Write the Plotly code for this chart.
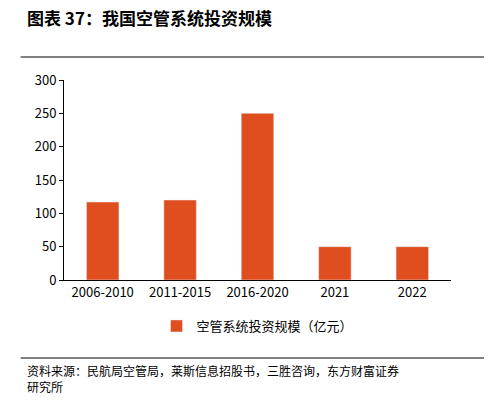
import plotly.graph_objects as go

categories = ["2006-2010", "2011-2015", "2016-2020", "2021", "2022"]
values = [117, 120, 250, 50, 50]
yticks = [0, 50, 100, 150, 200, 250, 300]
series_name = "空管系统投资规模（亿元）"

W, H = 492, 401
T, B = 72, 129
PH = H - T - B
def py(y):  # pixel y (from top) -> paper
    return (H - B - y) / PH

fig = go.Figure(go.Bar(x=categories, y=values, name=series_name,
                       marker_color="#E04E1F", width=0.42, showlegend=True))
fnt = "Noto Sans CJK SC"
fig.update_layout(
    width=W, height=H, paper_bgcolor="white", plot_bgcolor="white",
    margin=dict(l=56, r=49, t=T, b=B),
    font=dict(family=fnt, size=13, color="black"),
    bargap=0.5,
    yaxis=dict(range=[0, 300], tickvals=yticks, showgrid=False, showline=True,
               linecolor="black", ticks="outside", ticklen=4, tickcolor="black",
               zeroline=False),
    xaxis=dict(showline=True, linecolor="black", ticks="", tickfont=dict(size=13)),
    legend=dict(orientation="h", x=0.5, xanchor="center", y=py(318), yanchor="middle",
                font=dict(size=13), itemwidth=30),
    shapes=[
        dict(type="line", xref="paper", yref="paper", x0=-0.112, x1=1.114,
             y0=py(49), y1=py(49), line=dict(color="black", width=1)),
        dict(type="line", xref="paper", yref="paper", x0=-0.112, x1=1.114,
             y0=py(350), y1=py(350), line=dict(color="black", width=1)),
    ],
    annotations=[
        dict(text="<b>图表 37：我国空管系统投资规模</b>", xref="paper", yref="paper",
             x=-0.10, y=py(10), xanchor="left", yanchor="middle",
             showarrow=False, font=dict(size=17, family=fnt)),
        dict(text="资料来源：民航局空管局，莱斯信息招股书，三胜咨询，东方财富证券<br>研究所",
             xref="paper", yref="paper", x=-0.10, y=py(352),
             xanchor="left", yanchor="top", align="left", showarrow=False,
             font=dict(size=12, family=fnt)),
    ],
)
fig.write_html("out.html")
